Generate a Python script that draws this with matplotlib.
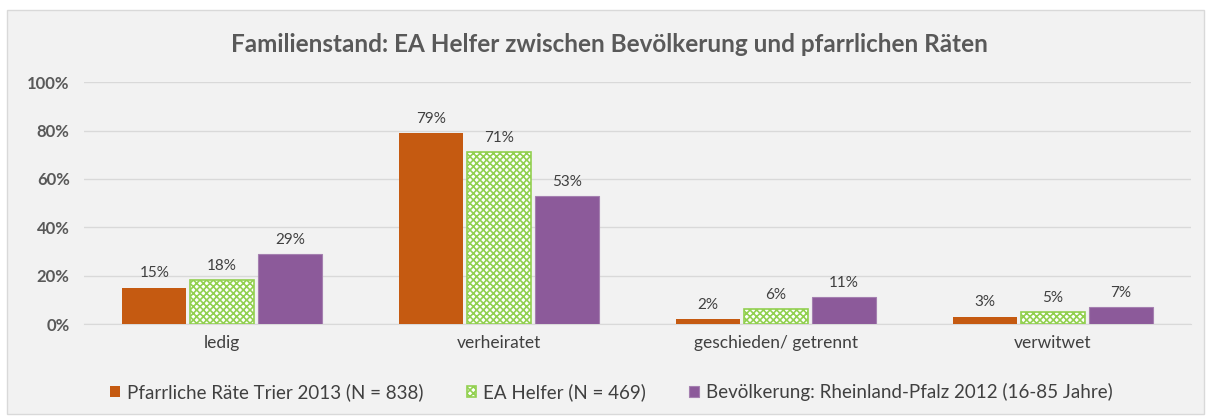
import numpy as np
import matplotlib.pyplot as plt
from matplotlib.patches import Rectangle

plt.rcParams["font.family"] = ["Lato", "DejaVu Sans"]
plt.rcParams["hatch.linewidth"] = 1.2

categories = ["ledig", "verheiratet", "geschieden/ getrennt", "verwitwet"]
series_names = [
    "Pfarrliche Räte Trier 2013 (N = 838)",
    "EA Helfer (N = 469)",
    "Bevölkerung: Rheinland-Pfalz 2012 (16-85 Jahre)",
]
raete = [15, 79, 2, 3]
helfer = [18, 71, 6, 5]
bevoelkerung = [29, 53, 11, 7]
yticks = [0, 20, 40, 60, 80, 100]

TEXT = "#595959"

fig = plt.figure(figsize=(12.12, 4.17), dpi=100, facecolor="white")
fig.patches.append(
    Rectangle((7 / 1212, 3 / 417), 1197 / 1212, 404 / 417,
              transform=fig.transFigure, facecolor="#f2f2f2",
              edgecolor="#d9d9d9", linewidth=1, zorder=-1)
)
ax = fig.add_axes([0.069, 0.223, 0.914, 0.580])
ax.set_facecolor("none")

x = np.arange(len(categories))
w = 0.231
off = 0.245

b1 = ax.bar(x - off, raete, w, color="#c55a11", label=series_names[0], zorder=3)
b2 = ax.bar(x, helfer, w, facecolor="white", edgecolor="#92d050", hatch="xxxxx",
            linewidth=1.2, label=series_names[1], zorder=3)
b3 = ax.bar(x + off, bevoelkerung, w, color="#8c5a9a", edgecolor="#a580b0",
            linewidth=0.8, label=series_names[2], zorder=3)

for bars, vals in [(b1, raete), (b2, helfer), (b3, bevoelkerung)]:
    for rect, v in zip(bars, vals):
        ax.text(rect.get_x() + rect.get_width() / 2, v + 3, f"{v}%",
                ha="center", va="bottom", fontsize=11, color="#404040")

ax.set_ylim(0, 100)
ax.set_xlim(-0.5, len(categories) - 0.5)
ax.set_yticks(yticks)
ax.set_yticklabels([f"{t}%" for t in yticks], fontsize=12, fontweight="bold",
                   color=TEXT)
ax.set_xticks(x)
ax.set_xticklabels(categories, fontsize=12.5, color="#404040")
ax.tick_params(length=0, pad=10)
ax.tick_params(axis="x", pad=8)
ax.grid(axis="y", color="#d9d9d9", linewidth=1, zorder=0)
for s in ["top", "right", "left"]:
    ax.spines[s].set_visible(False)
ax.spines["bottom"].set_color("#d9d9d9")

fig.text(0.503, 0.894, "Familienstand: EA Helfer zwischen Bevölkerung und pfarrlichen Räten",
         ha="center", va="center", fontsize=17.5, fontweight="bold", color=TEXT)

fig.legend(loc="center left", bbox_to_anchor=(110 / 1212, 0.06), ncol=3,
           frameon=False, fontsize=13.5, borderpad=0, borderaxespad=0,
           handlelength=0.53, handleheight=0.53, handletextpad=0.37,
           columnspacing=2.3, labelcolor="#404040")

fig.savefig("out.png", dpi=100, facecolor=fig.get_facecolor())
